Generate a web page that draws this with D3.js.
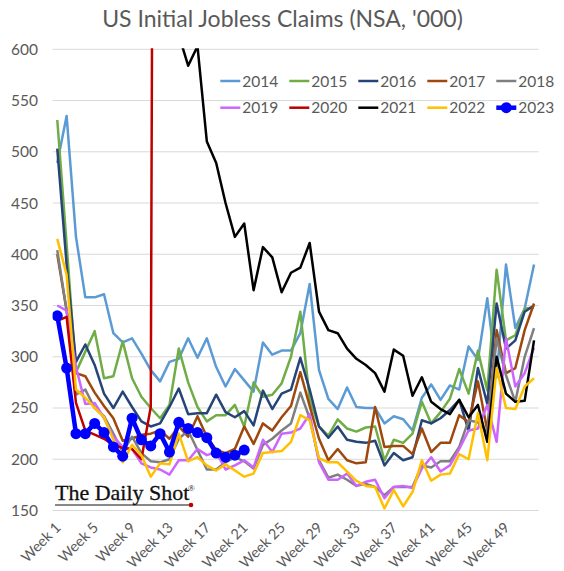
<!DOCTYPE html>
<html><head><meta charset="utf-8">
<script src="https://cdn.jsdelivr.net/npm/d3@7"></script>
<style>
html,body{margin:0;padding:0;background:#fff;}
svg{display:block;font-family:Lato,"Open Sans",sans-serif;}
</style>
</head><body>
<svg id="chart" width="564" height="571"></svg>
<script>
// ---- data ----
const weekNumbers = d3.range(1, 53);
const weekLabels = weekNumbers.map(w => "Week " + w);
const xTickWeeks = [1, 5, 9, 13, 17, 21, 25, 29, 33, 37, 41, 45, 49];
const yTickValues = [150, 200, 250, 300, 350, 400, 450, 500, 550, 600];
const seriesNames = ["2014", "2015", "2016", "2017", "2018", "2019", "2020", "2021", "2022", "2023"];
const seriesColors = ["#5B9BD5", "#70AD47", "#264478", "#9E480E", "#7F7F7F", "#CC66FF", "#C00000", "#000000", "#FFC000", "#0000FF"];

const y2014 = [489,535,417,358,358,361,323,314,318,303,287,276,295,298,318,299,318,290,271,288,277,266,314,302,306,306,323,371,287,259,249,270,251,250,250,235,242,239,228,260,273,258,272,268,310,297,357,280,390,328,347,390];
const y2015 = [531,410,285,305,325,279,281,315,279,261,250,240,253,308,275,251,237,243,243,253,232,275,261,263,274,300,344,258,232,223,239,230,227,231,232,199,219,216,225,256,235,246,259,288,264,306,267,385,316,321,347,348];
const y2016 = [503,390,295,312,292,264,250,266,251,237,232,235,251,269,244,245,245,263,246,241,247,233,267,249,264,268,299,268,232,221,232,219,217,216,218,194,206,199,202,238,235,240,248,258,228,289,254,352,308,316,344,350];
const y2017 = [400,345,284,281,265,252,240,218,220,224,225,228,220,232,222,242,222,209,206,210,232,215,235,228,241,252,285,252,220,199,210,199,196,197,251,212,213,213,205,230,207,216,216,243,236,276,228,326,284,289,326,352];
const y2018 = [404,345,263,268,250,242,225,207,222,206,198,197,200,220,228,209,190,190,197,202,198,191,214,220,228,235,265,240,199,182,185,180,174,176,173,165,173,173,173,194,192,198,198,212,238,236,226,318,282,256,300,328];
const y2019 = [350,345,290,254,255,240,222,212,210,196,192,190,185,199,199,210,204,207,190,194,199,192,219,207,225,226,230,244,197,180,180,186,174,178,180,162,173,174,172,191,202,188,194,210,228,230,253,217,318,271,284,309];
const y2020 = [335,339,255,228,224,220,214,211,210,200,251,2920];
const y2021 = [922,1151,1064,969,862,849,848,819,839,751,766,686,719,614,584,603,510,489,450,417,430,365,407,397,363,382,387,411,344,326,323,308,298,292,284,266,307,301,262,280,256,249,244,258,241,253,217,300,264,256,257,316];
const y2022 = [415,380,268,260,250,241,219,197,214,204,183,196,195,225,198,202,194,189,195,189,183,186,206,207,208,217,243,238,201,197,197,188,179,174,173,152,170,154,168,199,179,185,186,205,200,245,199,289,250,249,271,279];
const y2023 = [340,289,225,225,235,226,212,203,240,219,213,225,207,236,230,226,221,206,202,204,209];

const seriesValues = [y2014, y2015, y2016, y2017, y2018, y2019, y2020, y2021, y2022, y2023];

// ---- layout ----
const W = 564, H = 571;
const plot = {left: 52.6, right: 538.7, top: 49.3, bottom: 510.5};
const textColor = "#595959";

const svg = d3.select("#chart");
svg.append("rect").attr("width", W).attr("height", H).attr("fill", "#fff");

const x = d3.scalePoint().domain(weekLabels).range([plot.left, plot.right]).padding(0.5);
const y = d3.scaleLinear().domain([150, 600]).range([plot.bottom, plot.top]);

// title
svg.append("text")
  .attr("x", 282.5).attr("y", 27)
  .attr("text-anchor", "middle")
  .attr("font-size", 23)
  .attr("fill", textColor)
  .text("US Initial Jobless Claims (NSA, '000)");

// gridlines
svg.append("g").selectAll("line").data(yTickValues).join("line")
  .attr("x1", plot.left).attr("x2", plot.right)
  .attr("y1", d => y(d)).attr("y2", d => y(d))
  .attr("stroke", "#D9D9D9").attr("stroke-width", 1);

// y axis labels
const yAxis = d3.axisLeft(y).tickValues(yTickValues).tickSize(0).tickPadding(0);
const gy = svg.append("g").attr("transform", `translate(38,0)`).call(yAxis);
gy.select(".domain").remove();
gy.selectAll("text").attr("font-size", 15.5).attr("fill", textColor)
  .attr("font-family", "Lato, 'Open Sans', sans-serif");

// x axis labels
const xAxis = d3.axisBottom(x).tickValues(xTickWeeks.map(w => "Week " + w)).tickSize(0).tickPadding(0);
const gx = svg.append("g").attr("transform", `translate(0,${plot.bottom})`).call(xAxis);
gx.select(".domain").remove();
gx.selectAll("text")
  .attr("font-size", 14.5).attr("fill", textColor)
  .attr("font-family", "Lato, 'Open Sans', sans-serif")
  .attr("text-anchor", "end")
  .attr("dy", 0)
  .attr("y", 0)
  .attr("transform", "translate(4,18) rotate(-45)");

// clip
svg.append("clipPath").attr("id", "plotclip").append("rect")
  .attr("x", plot.left).attr("y", plot.top - 1)
  .attr("width", plot.right - plot.left).attr("height", plot.bottom - plot.top + 1);

const line = d3.line()
  .x((d, i) => x(weekLabels[i]))
  .y(d => y(d));

const gLines = svg.append("g").attr("clip-path", "url(#plotclip)");
seriesValues.forEach((vals, si) => {
  const is23 = seriesNames[si] === "2023";
  gLines.append("path")
    .datum(vals)
    .attr("d", line)
    .attr("fill", "none")
    .attr("stroke", seriesColors[si])
    .attr("stroke-width", is23 ? 4.5 : 2.5)
    .attr("stroke-linejoin", "round");
  if (is23) {
    gLines.append("g").selectAll("circle").data(vals).join("circle")
      .attr("cx", (d, i) => x(weekLabels[i]))
      .attr("cy", d => y(d))
      .attr("r", 5.5)
      .attr("fill", seriesColors[si]);
  }
});

// legend
const legend = svg.append("g");
seriesNames.forEach((name, i) => {
  const col = i % 5, row = Math.floor(i / 5);
  const x0 = 220.3 + col * 69;
  const yc = 81 + row * 26.7;
  const g = legend.append("g");
  g.append("line").attr("x1", x0).attr("x2", x0 + 20).attr("y1", yc).attr("y2", yc)
    .attr("stroke", seriesColors[i]).attr("stroke-width", name === "2023" ? 4.5 : 2.5);
  if (name === "2023") {
    g.append("circle").attr("cx", x0 + 10).attr("cy", yc).attr("r", 5.5).attr("fill", seriesColors[i]);
  }
  g.append("text").attr("x", x0 + 22).attr("y", yc + 5.5)
    .attr("font-size", 15.5).attr("fill", textColor).text(name);
});

// logo
const logo = svg.append("g");
logo.append("text").attr("x", 55).attr("y", 500)
  .attr("font-family", "'Liberation Serif', 'DejaVu Serif', serif")
  .attr("font-size", 22).attr("fill", "#111")
  .attr("stroke", "#111").attr("stroke-width", 0.3)
  .text("The Daily Shot");
logo.append("text").attr("x", 188).attr("y", 491)
  .attr("font-family", "'Liberation Serif', 'DejaVu Serif', serif")
  .attr("font-size", 9).attr("fill", "#111")
  .text("®");
logo.append("line").attr("x1", 55).attr("x2", 190).attr("y1", 505).attr("y2", 505)
  .attr("stroke", "#111").attr("stroke-width", 1);
logo.append("circle").attr("cx", 191).attr("cy", 505).attr("r", 2.3).attr("fill", "#C00000");
</script>
</body></html>
